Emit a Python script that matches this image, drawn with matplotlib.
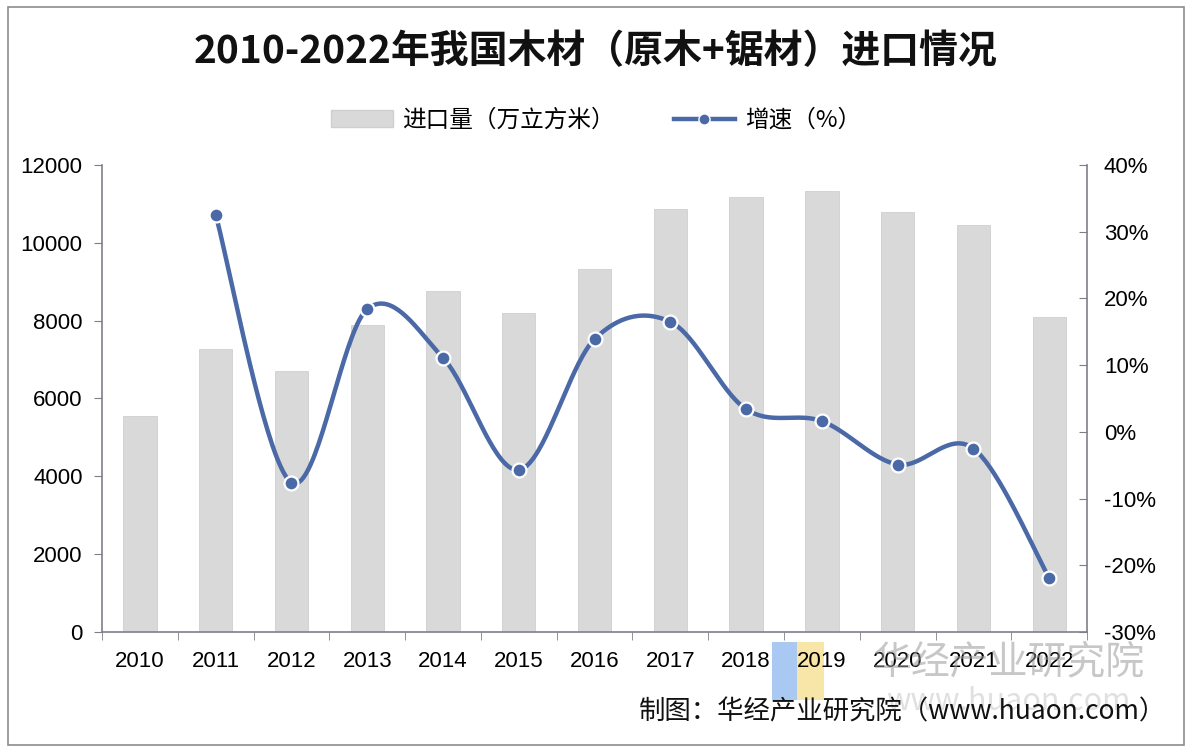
import numpy as np
import matplotlib.pyplot as plt
from matplotlib.lines import Line2D
from matplotlib.patches import Patch, Rectangle

plt.rcParams['font.family'] = ['Noto Sans CJK SC', 'DejaVu Sans']

# === DATA ===
years = ['2010', '2011', '2012', '2013', '2014', '2015', '2016',
         '2017', '2018', '2019', '2020', '2021', '2022']
volume = [5550, 7270, 6700, 7890, 8760, 8200, 9330,
          10870, 11180, 11330, 10790, 10460, 8100]
growth_years = years[1:]
growth = [32.5, -7.6, 18.4, 11.1, -5.7, 13.9, 16.5, 3.4, 1.6, -4.9, -2.5, -21.9]

BAR_COLOR = '#d9d9d9'
LINE_COLOR = '#4a69a6'
SPINE_COLOR = '#7f7f8a'
NUM_FONT = ['Liberation Sans', 'DejaVu Sans']


def smooth_curve(xs, ys, yscale, n=40):
    # Excel-like bezier smoothing, computed in roughly equal-aspect units
    pts = np.column_stack([xs, np.asarray(ys) * yscale])
    out = []
    for i in range(len(pts) - 1):
        p0 = pts[i - 1] if i > 0 else pts[i]
        p1, p2 = pts[i], pts[i + 1]
        p3 = pts[i + 2] if i + 2 < len(pts) else pts[i + 1]
        c1 = p1 + (p2 - p0) / 6
        c2 = p2 - (p3 - p1) / 6
        t = np.linspace(0, 1, n)[:, None]
        seg = ((1 - t) ** 3) * p1 + 3 * ((1 - t) ** 2) * t * c1 + 3 * (1 - t) * t ** 2 * c2 + t ** 3 * p2
        out.append(seg)
    out = np.vstack(out)
    return out[:, 0], out[:, 1] / yscale


fig = plt.figure(figsize=(11.92, 7.52), dpi=100)
fig.patch.set_facecolor('white')
fig.patches.append(Rectangle((8 / 1192, 7 / 752), 1176 / 1192, 738 / 752,
                             transform=fig.transFigure, fill=False,
                             edgecolor='#8c8c8c', linewidth=1.2))

# logo blocks of the watermark, under the tick labels
fig.patches.append(Rectangle((772 / 1192, 52 / 752), 25 / 1192, 58 / 752, transform=fig.transFigure,
                             facecolor='#a9c9f2', edgecolor='none', zorder=-1))
fig.patches.append(Rectangle((797 / 1192, 52 / 752), 27 / 1192, 58 / 752, transform=fig.transFigure,
                             facecolor='#f8e6a8', edgecolor='none', zorder=-1))

ax = fig.add_axes([0.0856, 0.1596, 0.8264, 0.621])
x = np.arange(len(years))
ax.bar(x, volume, width=0.44, color=BAR_COLOR, edgecolor='#cfcfcf', linewidth=0.6, zorder=2)
ax.set_xlim(-0.5, len(years) - 0.5)
ax.set_ylim(0, 12000)
ax.set_yticks(np.arange(0, 12001, 2000))
ax.set_xticks(x)
ax.set_xticklabels(years, family=NUM_FONT)
for lab in ax.get_yticklabels():
    lab.set_family(NUM_FONT)
ax.set_xticks(np.arange(-0.5, len(years), 1), minor=True)
ax.tick_params(axis='x', which='major', length=0, labelsize=16, pad=14)
ax.tick_params(axis='x', which='minor', length=6, color=SPINE_COLOR)
ax.tick_params(axis='y', length=6, color=SPINE_COLOR, labelsize=16, pad=8)
for s in ['top', 'right']:
    ax.spines[s].set_visible(False)
for s in ['left', 'bottom']:
    ax.spines[s].set_color(SPINE_COLOR)
    ax.spines[s].set_linewidth(1.2)

ax2 = ax.twinx()
ax2.set_ylim(-30, 40)
ax2.set_yticks(np.arange(-30, 41, 10))
ax2.set_yticklabels([f'{v}%' for v in range(-30, 41, 10)], family=NUM_FONT)
ax2.tick_params(axis='y', direction='in', length=6, color=SPINE_COLOR, labelsize=16, pad=12)
for s in ['top', 'left', 'bottom']:
    ax2.spines[s].set_visible(False)
ax2.spines['right'].set_color(SPINE_COLOR)
ax2.spines['right'].set_linewidth(1.2)

gx = np.arange(1, len(years))
sx, sy = smooth_curve(gx, growth, yscale=6.67 / 75.8)
ax2.plot(sx, sy, color=LINE_COLOR, linewidth=3.2, zorder=3, solid_capstyle='round')
ax2.plot(gx, growth, linestyle='none', marker='o', markersize=10,
         markerfacecolor=LINE_COLOR, markeredgecolor='white', markeredgewidth=1.6, zorder=4)

fig.text(0.5, 0.932, '2010-2022年我国木材（原木+锯材）进口情况', ha='center', va='center',
         fontsize=28, fontweight='bold', color='#111111')

handles = [Patch(facecolor=BAR_COLOR, edgecolor='#cfcfcf'),
           Line2D([], [], color=LINE_COLOR, linewidth=3.2, marker='o', markersize=8,
                  markerfacecolor=LINE_COLOR, markeredgecolor='white')]
fig.legend(handles, ['进口量（万立方米）', '增速（%）'], loc='center', bbox_to_anchor=(0.5, 0.84),
           ncol=2, frameon=False, fontsize=17, handlelength=2.6, columnspacing=2.5, handletextpad=0.4)

# watermark text
fig.text(1008 / 1192, 1 - 662 / 752, '华经产业研究院', ha='center', va='center', fontsize=28,
         color='#9a9a9a', alpha=0.55, zorder=6)
fig.text(1008 / 1192, 1 - 702 / 752, 'www.huaon.com', ha='center', va='center', fontsize=22,
         color='#9a9a9a', alpha=0.3, zorder=6)

fig.text(902 / 1192, 1 - 712 / 752, '制图：华经产业研究院（www.huaon.com）', ha='center', va='center',
         fontsize=19, color='#111111', zorder=7)

fig.savefig('out.png', dpi=100)
